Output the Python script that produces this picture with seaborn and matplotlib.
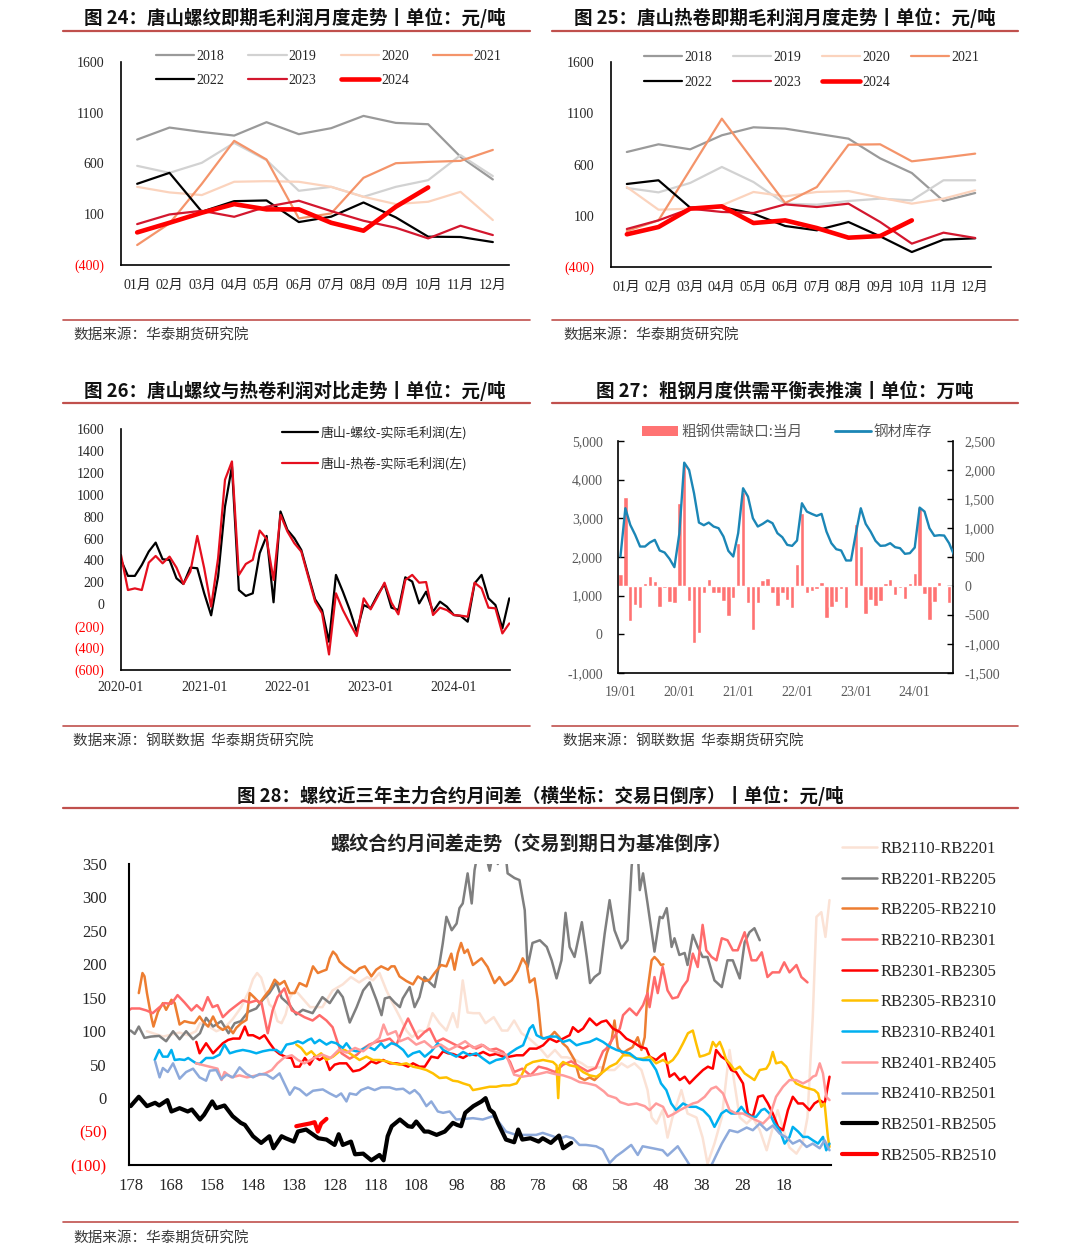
import numpy as np
import matplotlib
matplotlib.use("Agg")
import matplotlib.pyplot as plt
import seaborn as sns
from matplotlib.lines import Line2D
from matplotlib.patches import Patch

sns.set_theme(style="white")
plt.rcParams['font.family'] = ['Noto Sans CJK SC', 'DejaVu Sans']
plt.rcParams['axes.unicode_minus'] = False
SERIF = ['Liberation Serif', 'Noto Sans CJK SC']
CJK = ['Noto Sans CJK SC', 'DejaVu Sans']

# ---------------- data: panel 24 (rebar) ----------------
months = ["01月", "02月", "03月", "04月", "05月", "06月", "07月", "08月", "09月", "10月", "11月", "12月"]
year_labels = ["2018", "2019", "2020", "2021", "2022", "2023", "2024"]
rebar_2018 = [836, 954, 911, 875, 1007, 889, 948, 1069, 1000, 987, 666, 443]
rebar_2019 = [577, 508, 607, 803, 633, 331, 370, 272, 370, 436, 682, 476]
rebar_2020 = [370, 315, 289, 420, 426, 420, 370, 272, 200, 223, 321, 43]
rebar_2021 = [-203, 10, 400, 823, 639, 59, 108, 459, 603, 616, 626, 734]
rebar_2022 = [400, 508, 125, 229, 236, 23, 76, 216, 69, -121, -124, -174]
rebar_2023 = [3, 98, 134, 75, 174, 233, 131, 36, -33, -138, -13, -105]
rebar_2024 = [-79, 16, 115, 200, 148, 148, 16, -62, 174, 364]

# ---------------- data: panel 25 (hot coil) ----------------
hrc_2018 = [722, 797, 748, 885, 963, 950, 901, 852, 660, 517, 244, 322]
hrc_2019 = [371, 328, 420, 576, 429, 218, 208, 244, 267, 250, 446, 446]
hrc_2020 = [380, 159, 169, 202, 332, 289, 332, 341, 276, 218, 267, 348]
hrc_2021 = [-49, 55, 550, 1047, 634, 224, 380, 793, 797, 631, 667, 706]
hrc_2022 = [410, 446, 179, 185, 120, 0, -42, 39, -101, -254, -133, -120]
hrc_2023 = [-29, 55, 169, 137, 127, 211, 185, 218, 39, -172, -65, -117]
hrc_2024 = [-81, -10, 169, 192, 29, 55, -20, -114, -98, 55]

# ---------------- data: panel 26 (monthly 2020-01 .. 2024-09) ----------------
p26_year_labels = ["2020-01", "2021-01", "2022-01", "2023-01", "2024-01"]
ts_rebar_profit = [405, 259, 259, 359, 481, 563, 411, 405, 237, 185,
                   335, 329, 100, -101, 252, 893, 1259, 130, 76, 100,
                   466, 624, 18, 847, 679, 603, 496, 268, 45, -53,
                   -342, 268, 115, -53, -251, -7, -37, 85, 185, -31,
                   -53, 246, 207, 8, 115, -68, 24, -22, -98, -107,
                   -159, 191, 268, 54, -7, -220, 54]
ts_hrc_profit = [450, 130, 145, 130, 380, 441, 374, 435, 335, 185,
                 298, 624, 329, -22, 420, 1137, 1304, 268, 368, 405,
                 673, 597, 222, 816, 664, 557, 481, 252, 24, -83,
                 -458, 100, -53, -175, -290, 54, -46, 70, 197, 15,
                 -92, 222, 268, 197, 203, -98, -31, -53, -98, -104,
                 -113, 197, 145, -31, -37, -266, -175]

# ---------------- data: panel 27 (monthly 2019-01 .. 2024-09) ----------------
p27_year_labels = ["19/01", "20/01", "21/01", "22/01", "23/01", "24/01"]
supply_gap = [200, 1527, -603, -333, -373, 57, 178, 80, -356, -40,
              -270, -287, 1435, 2112, -252, -987, -804, -115, 120, -126,
              -126, -252, -516, -200, 735, 1624, -298, -757, -287, 103,
              132, -126, -344, -126, -241, -373, 373, 1251, -126, -80,
              -57, 75, -557, -356, -270, -52, -373, 17, 1067, 694,
              -488, -241, -344, -252, 46, 115, -155, -40, -224, 46,
              230, 1354, -138, -585, -270, 75, 0, -287, -430]
steel_inventory = [2013, 3261, 2831, 2573, 2271, 2271, 2375, 2443, 2168, 2116,
                   1953, 1737, 2600, 4440, 4250, 3649, 2891, 2822, 2891, 2788,
                   2745, 2530, 2159, 2013, 2616, 3778, 3562, 3003, 2788, 2857,
                   2943, 2874, 2616, 2512, 2314, 2288, 2426, 3390, 3175, 3115,
                   3063, 3115, 2659, 2357, 2202, 2168, 1910, 1910, 2616, 3261,
                   2857, 2659, 2418, 2288, 2297, 2357, 2254, 2228, 2082, 2099,
                   2245, 3278, 3175, 2745, 2547, 2564, 2555, 2357, 2056]

# ---------------- data: panel 28 (day-to-expiry, value) ----------------
rb2110_rb2201 = [(174,100),(172,96),(170,92),(168,95),(166,98),(164,94),(162,100),(161,112),(159,108),(157,100),(155,105),(153,118),(151,135),(149,160),(148,178),(147,187),(146,180),(145,160),(144,140),(143,135),(142,115),(141,112),(140,125),(139,150),(138,160),(137,157),(134,136),(131,136),(128.5,161),(126,170),(124,181),(122,173),(120,181),(118.6,176),(117,187),(115.3,161),(113.8,142),(112,121),(110.4,101),(109,91),(107.2,101),(105.5,99),(104,127),(102.3,112),(100.6,101),(99,127),(97.9,106),(96.6,176),(95.4,128),(94,127),(92.5,127),(91,112),(89,121),(87,101),(85.6,101),(84,116),(82.2,97),(80.7,91),(79,82),(77.3,72),(75.8,61),(74,72),(72.4,61),(71,61),(69,57),(67.4,52),(66,46),(64.3,46),(62.6,46),(61,42),(59.4,42),(57.7,52),(56.2,46),(54.5,52),(52.8,42),(51.3,12),(50.3,-29),(49.1,-38),(47.6,-18),(46.4,-59),(45.2,-29),(43,12),(41.5,-23),(39.3,-29),(37.8,-59),(36.6,-98),(34.9,-68),(33.1,-29),(31.2,72),(30,22),(28.7,-29),(27,-38),(25.5,-29),(23.8,-48),(22.1,-78),(20.6,-44),(19.4,-18),(18.2,-44),(16.5,-74),(14.8,-83),(13.3,-68),(12.1,-29),(10.8,121),(9.9,271),(8.7,278),(7.7,241),(6.7,296)]
rb2201_rb2205 = [(178,101),(177,96),(176,107),(174.6,90),(173,92),(171,93),(169.3,85),(167.6,100),(166,88),(164.4,100),(162.7,88),(161,97),(159.5,120),(157.8,107),(155.8,115),(154,97),(152.5,112),(151,115),(149.2,129),(147.2,134),(145.6,147),(144,157),(142.3,173),(141,150),(139,139),(137.4,125),(135.8,132),(133.4,127),(131,151),(129.2,142),(127.2,161),(126,151),(124.3,113),(122.6,136),(121,161),(119.4,173),(117.7,146),(116.5,124),(115.7,149),(114.5,151),(113.3,143),(112,136),(111.3,149),(109.6,166),(108.4,136),(107.2,151),(106,181),(104.7,173),(103.5,166),(102.3,201),(101.5,231),(100.6,271),(99.3,251),(98.1,261),(97.4,284),(96.6,291),(95.4,336),(94.4,291),(93.7,341),(92.5,380),(91,365),(90,340),(89,372),(88,350),(87,380),(86,360),(85.6,336),(83.9,329),(82.7,326),(81.4,281),(80.7,196),(79.5,232),(77.7,236),(76,226),(74.8,206),(73.6,179),(72.4,206),(71.4,277),(70.4,226),(69.2,211),(67.4,263),(66.2,211),(65.4,172),(64.3,181),(63,187),(61.8,246),(60.6,296),(59.4,251),(57.7,224),(56.2,236),(55.2,346),(54.5,390),(53.8,380),(53.2,311),(52.4,336),(51.3,291),(49.6,219),(48.3,271),(47.6,269),(46.6,284),(45.4,226),(44.7,239),(43.5,214),(42.2,217),(41.5,199),(40.2,244),(39,226),(37.8,211),(36.6,211),(34.9,176),(33.1,166),(31.7,206),(30.4,206),(28.7,179),(27.5,233),(26.3,248),(25.1,254),(23.8,236)]
rb2205_rb2210 = [(176,157),(175.1,187),(174.6,182),(174,157),(172.9,120),(172.4,107),(171.3,129),(170.1,142),(169.3,132),(168,147),(167.2,142),(166,110),(164.8,115),(163.5,113),(162.3,112),(161.1,122),(160.3,115),(159,107),(157.8,122),(156.6,107),(155.4,102),(154.1,107),(152.9,97),(152.1,105),(150.9,112),(149.6,117),(148.8,157),(147.6,150),(146.4,142),(145.2,152),(143.9,162),(142.7,177),(141.5,170),(140.3,175),(139,157),(137.8,157),(136.6,172),(134.9,167),(133.3,197),(132.1,187),(130.9,190),(130,192),(129.2,209),(128.4,219),(127.6,214),(126.8,204),(125.5,197),(124.3,192),(123.1,187),(121.9,194),(120.6,197),(119,182),(117.8,192),(116.6,197),(114.9,192),(114.1,197),(113.3,197),(112.1,182),(110.4,175),(108.8,170),(107.6,182),(105.9,175),(104.7,177),(103.5,187),(101.9,199),(100.6,197),(99.4,216),(98.6,192),(97.8,217),(97,232),(96.2,217),(95.4,222),(94.1,199),(92,209),(90.5,196),(88.8,172),(87.6,181),(86.3,169),(84.6,176),(83.1,191),(81.9,209),(80.9,199),(80.2,173),(79,179),(78.2,146),(77.3,91),(76.6,89),(75.3,91),(74.1,99),(72.9,91),(72.1,82),(71,76),(69.2,57),(68,31),(66.7,27),(65.5,31),(64.3,27),(62.6,37),(61.3,67),(60.1,87),(59.4,116),(58.6,76),(57.4,67),(56.2,72),(55,76),(53.7,91),(52.8,72),(52,91),(51.3,161),(50.3,206),(49.6,211),(48.8,206),(48,199),(47.4,200)]
rb2210_rb2301 = [(179.5,127),(177.8,134),(175.8,134),(174.1,131),(172.6,127),(170.9,136),(169.7,142),(168,141),(166.5,154),(164.8,143),(163.1,131),(161.8,139),(160.4,131),(159.1,151),(157.9,136),(156.7,139),(155.4,121),(153.7,131),(152,139),(150.5,146),(148.8,143),(147.1,146),(145.9,142),(144.4,97),(143.2,131),(142,151),(140.3,164),(138.5,131),(137.1,127),(135.4,121),(133.4,116),(131.7,124),(130,116),(128.5,106),(127.2,82),(126.3,67),(124.3,59),(122.5,65),(121,74),(119.5,80),(117.8,84),(116,86),(114.5,89),(112.9,79),(111.2,104),(110,119),(108.8,104),(107.6,89),(105.9,99),(104.7,104),(103.1,84),(101.4,89),(99.8,84),(98.2,79),(96.5,74),(94.9,79),(93.3,74),(91.6,79),(90,72),(88.4,74),(86.7,69),(85,54),(84,39),(82,44),(80,34),(78,47),(76,44),(74,39),(72,50),(70,55),(68,47),(66,40),(64,45),(62.2,70),(61.4,74),(59.8,89),(58.1,104),(57.3,124),(55.7,134),(54,124),(52.4,139),(51.3,157),(50.8,136),(49.6,181),(48.8,157),(47.6,196),(46.4,161),(45.2,149),(43.9,151),(42.7,166),(41.5,176),(40.2,216),(39,196),(37.8,259),(36.9,221),(35.6,211),(34.4,206),(33.1,239),(31.7,236),(30.4,221),(29.2,221),(27.5,248),(25.8,206),(24.6,206),(23.3,218),(21.9,181),(20.7,188),(19,188),(17.8,203),(16.5,188),(14.8,199),(13.6,181),(12.1,173)]
rb2301_rb2305 = [(161.9,84),(161.1,67),(159.5,82),(157.8,67),(156.2,77),(155.4,82),(154.1,87),(152.9,89),(151.3,89),(150,107),(149.2,94),(148,94),(146.4,89),(145.2,94),(143.9,82),(142.7,72),(141.5,66),(139.8,61),(138.6,60),(137.8,47),(136.6,47),(135.3,60),(134.1,50),(132.9,62),(131.7,57),(130.4,62),(129.2,42),(128,50),(126.8,52),(125.1,52),(123.5,40),(121.9,42),(120.6,47),(119,55),(117.8,52),(116.1,57),(114.5,52),(112.9,52),(111.2,50),(110,47),(108.8,52),(107.2,47),(105.9,47),(104.3,62),(102.7,60),(101.4,70),(100.2,67),(99,66),(96.5,60),(94.9,66),(93.3,64),(91.6,69),(90,64),(88.4,66),(86.7,62),(85.1,62),(83.4,64),(81.8,64),(80.2,74),(78.5,74),(76.9,79),(75.3,89),(73.6,84),(72,89),(70.4,94),(69.6,106),(68.3,99),(67.1,104),(65.5,119),(63.8,109),(62.6,114),(61.4,116),(59.8,104),(58.1,99),(56.5,89),(54.9,84),(53.2,77),(51.6,74),(50.8,62),(49.2,57),(47.9,64),(47.1,67),(45.9,32),(44.7,37),(43.4,27),(42.2,32),(41,22),(39.4,32),(37.7,42),(36.5,47),(35.3,44),(34.5,72),(33.2,62),(32,57),(30.8,42),(29.6,39),(27.9,22),(26.7,-23),(25.5,-28),(24.2,2),(23,4),(21.8,-8),(20.6,-23),(19.3,-43),(18.1,-48),(16.9,-18),(15.7,2),(14.4,-8),(13.2,-8),(11.6,-18),(10.4,-8),(9.1,-3),(7.9,-8),(6.7,32)]
rb2305_rb2310 = [(137.4,80),(136.2,75),(134.9,65),(133.7,70),(132.5,62),(131.3,67),(130,57),(128.4,62),(126.8,70),(125.5,72),(124.3,67),(123.1,62),(121.9,57),(120.2,62),(118.6,57),(117,57),(115.3,55),(113.7,52),(112.1,50),(110.4,52),(108.8,47),(107.2,45),(105.5,42),(103.9,37),(102.3,30),(100.6,31),(99,26),(97.8,25),(96.5,22),(94.9,19),(94.1,12),(92.4,14),(90,17),(88.4,17),(86.7,19),(85.1,19),(83.4,22),(82.2,34),(81,49),(79.4,54),(76.9,57),(74.5,54),(73.6,49),(73.2,0),(72.8,49),(72,54),(70.4,49),(68.7,47),(67.1,39),(65.5,34),(63.8,32),(62.2,39),(60.6,47),(58.9,52),(57.3,64),(55.7,64),(54,59),(52.4,59),(50.8,62),(49.2,52),(47.5,57),(46.3,52),(45.1,57),(43.9,67),(42.6,82),(41.4,97),(40.2,101),(39.4,82),(38.5,62),(37.3,64),(36.1,67),(35.3,84),(34.5,77),(33.6,84),(32.8,72),(32,57),(31.2,52),(30,42),(28.7,47),(27.5,37),(26.3,32),(25.1,27),(23.8,42),(22.2,44),(21.4,52),(20.6,69),(19.8,52),(18.5,54),(17.3,47),(16.1,32),(14.9,22),(13.2,17),(11.6,14),(10.4,12),(9.5,7),(8.7,-13),(7.9,-8),(7.1,-58),(6.7,-73)]
rb2310_rb2401 = [(172.1,57),(171,72),(170.1,62),(168.9,62),(168,72),(167.2,57),(166,58),(164.8,57),(163.9,60),(162.7,55),(161.9,52),(161.1,51),(159.5,60),(157.8,60),(156.2,65),(155,80),(153.7,67),(152.1,70),(150.5,72),(148.8,70),(147.2,67),(145.6,70),(143.9,72),(142.3,72),(141.1,67),(139.8,80),(138.2,82),(137,85),(135.8,82),(134.5,87),(133.7,89),(132.9,82),(131.7,87),(130,80),(128.8,84),(127.6,82),(126,75),(125.1,82),(123.9,72),(122.7,70),(121.5,72),(119.8,77),(118.2,72),(116.6,82),(115.7,75),(114.1,82),(112.9,80),(111.2,72),(110,62),(108.8,67),(107.2,70),(105.9,62),(104.3,70),(102.7,82),(101.4,72),(99.8,67),(98.2,62),(96.5,69),(94.9,64),(93.3,67),(91.6,59),(90,52),(88.4,57),(86.7,59),(85.1,67),(83.4,74),(81.8,79),(80.2,104),(79.4,109),(78.5,94),(76.9,89),(75.3,92),(73.6,92),(72,84),(70.4,87),(68.7,79),(67.1,82),(65.5,84),(63.8,89),(62.2,84),(60.6,77),(58.9,72),(57.3,69),(55.7,67),(54,59),(52.4,57),(50.8,57),(49.2,42),(48,22),(46.7,12),(45.5,-8),(44.3,-18),(42.6,-8),(41,-13),(39.4,-13),(37.7,-18),(36.1,-28),(34.9,-43),(33.2,-23),(32,-18),(30.8,-23),(29.6,-23),(28.3,-13),(27.1,-23),(25.9,-28),(24.7,-28),(23.4,-18),(22.6,-16),(21.4,-23),(20.2,-38),(18.9,-48),(17.7,-68),(16.5,-58),(15.7,-43),(14.4,-50),(13.2,-58),(12,-58),(10.8,-63),(9.5,-68),(8.3,-58),(7.5,-78),(6.7,-68)]
rb2401_rb2405 = [(162,52),(160,49),(158,46),(156.7,44),(155.7,27),(155,39),(153.3,31),(151.3,34),(149.5,31),(147,34),(145,37),(143.4,42),(142,52),(140.3,61),(138.5,64),(137,57),(135.4,52),(133,60),(131,65),(129,60),(127,72),(125,68),(123,75),(121,70),(119,80),(117,90),(116,110),(115,95),(113,100),(112,85),(110,90),(108,80),(106,85),(104,75),(102,80),(100,72),(98,78),(96,85),(94,75),(92,80),(90,72),(88,68),(86,65),(85,50),(84,35),(82,32),(80,34),(78,36),(76,39),(74,36),(72,34),(70,30),(68,24),(66,22),(64,19),(62,10),(61,4),(59,0),(58,-6),(56,-10),(54,-8),(52,-12),(50.8,-18),(49.2,-8),(47.5,-13),(46.3,-28),(44.7,-23),(43.4,-18),(41.8,-13),(40.2,-8),(39,-6),(37.3,2),(35.7,14),(34.5,17),(32.8,7),(31.2,-18),(29.6,-23),(27.9,-23),(26.3,-28),(24.7,-33),(23,-38),(21.4,-28),(19.8,2),(18.1,17),(16.5,27),(14.9,27),(13.2,22),(11.6,27),(10.8,32),(10,34),(9.1,52),(8.3,37),(7.5,2),(6.7,-3)]
rb2410_rb2501 = [(172,55),(170.9,31),(170.1,45),(168.9,39),(167.6,52),(166,29),(164.4,39),(162.7,44),(161.1,31),(159.5,26),(158.6,41),(157,42),(155.8,28),(154.5,35),(152.9,31),(151.3,46),(149.6,36),(148,31),(146.4,36),(144.7,35),(143.1,29),(141.5,37),(139,5),(137.8,16),(136.6,13),(134.9,4),(133.3,11),(130.9,13),(129.2,7),(127.6,2),(126.4,7),(125.1,-5),(124.3,7),(122.7,5),(121.5,12),(119.8,16),(118.2,12),(116.6,16),(114.5,16),(112.9,13),(111.2,14),(109.6,7),(108.4,12),(107.2,5),(105.5,-12),(104.3,-5),(102.7,-20),(101.4,-22),(99.8,-20),(98.2,-32),(94.1,-30),(91.7,-32),(89.2,-27),(87.6,-37),(86,-50),(83.5,-55),(81.1,-55),(78.6,-55),(77,-52),(74.5,-57),(72.9,-61),(71.3,-57),(69.6,-60),(68,-70),(66.4,-70),(63.9,-72),(62.3,-77),(60.6,-97),(59,-87),(57.4,-80),(55.3,-70),(53.7,-85),(52.5,-72),(50,-75),(47.6,-78),(46.4,-86),(43.9,-72),(41.7,-93),(40.2,-108),(38,-118),(36.5,-110),(35.3,-96),(33.1,-68),(31.2,-48),(29.2,-51),(27,-44),(25.5,-48),(23.8,-38),(22.1,-48),(20.6,-41),(18.9,-53),(17.2,-59),(15.7,-68),(14,-63),(12.3,-73),(10.8,-68),(9.1,-75),(7.9,-63),(6.7,-78)]
rb2501_rb2505 = [(178,-12),(176,2),(174,-12),(172,-7),(171,-11),(169,-3),(168,-20),(166,-15),(164,-20),(163,-17),(161,-32),(160,-25),(158,-5),(157,-15),(155,-11),(153,-27),(151,-37),(150,-40),(148,-57),(146,-67),(144,-57),(143,-75),(141,-57),(140,-60),(138,-65),(137,-50),(135,-47),(132,-60),(130,-62),(128,-70),(127,-54),(126,-70),(124,-65),(123,-84),(121,-83),(119,-93),(117,-85),(116,-93),(115,-57),(114,-42),(112,-32),(110,-42),(109,-43),(108,-35),(106,-50),(105,-50),(103,-55),(101,-50),(99,-37),(98,-40),(97,-42),(96,-22),(94,-12),(92,-5),(91,0),(90,-17),(89,-22),(88,-37),(86,-62),(84,-66),(83,-47),(82,-62),(80,-60),(78,-65),(77,-60),(75,-67),(73,-56),(72,-75),(70,-67)]
rb2505_rb2510 = [(137.4,-42),(135.8,-40),(134.1,-38),(132.9,-36),(132.1,-50),(131.3,-38),(130,-31)]

spread_names = ["RB2110-RB2201", "RB2201-RB2205", "RB2205-RB2210", "RB2210-RB2301", "RB2301-RB2305",
                "RB2305-RB2310", "RB2310-RB2401", "RB2401-RB2405", "RB2410-RB2501", "RB2501-RB2505", "RB2505-RB2510"]

# ---------------- styles ----------------
W, H = 1080, 1258
RULE = "#c0504d"
RED_TXT = "#ff0000"
year_colors = ["#9a9a9a", "#d2d2d2", "#fbd3bd", "#f4946a", "#000000", "#d3172e", "#ff0000"]
year_lw = [1.6, 1.6, 1.6, 1.6, 1.6, 1.6, 3.3]
spread_colors = ["#fbe2d5", "#7f7f7f", "#ed7d31", "#ff6b6b", "#ff0000", "#ffc000", "#00b0f0",
                 "#ff9b9b", "#8eaadb", "#000000", "#ff0000"]
spread_lw = [1.8, 1.8, 1.8, 1.8, 1.8, 1.8, 1.8, 1.8, 1.8, 3.0, 3.0]

fig = plt.figure(figsize=(W / 100, H / 100), dpi=100)
fig.patch.set_facecolor("white")


def fx(px):
    return px / W


def fy(py):
    return 1 - py / H


def axes_px(l, t, r, b):
    return fig.add_axes([l / W, 1 - b / H, (r - l) / W, (b - t) / H])


def hline(x0, x1, y, lw=1.6):
    fig.add_artist(Line2D([fx(x0), fx(x1)], [fy(y), fy(y)], color=RULE, lw=lw))


def title(x, y, s):
    fig.text(fx(x), fy(y), s, ha="center", va="center", fontsize=13.3, fontweight="bold",
             family=CJK, color="#111111")


def source(x, y, s):
    fig.text(fx(x), fy(y), s, ha="left", va="center", fontsize=10.5, family=CJK, color="#3a3a3a")


def style_spines(ax, sides=("left", "bottom"), lw=1.2):
    for k, sp in ax.spines.items():
        if k in sides:
            sp.set_visible(True)
            sp.set_color("black")
            sp.set_linewidth(lw)
        else:
            sp.set_visible(False)


def color_paren_labels(labels):
    for t in labels:
        if t.get_text().startswith("("):
            t.set_color(RED_TXT)


# ---------------- page decorations ----------------
title(295, 18, "图 24：唐山螺纹即期毛利润月度走势丨单位：元/吨")
title(785, 18, "图 25：唐山热卷即期毛利润月度走势丨单位：元/吨")
title(295, 391, "图 26：唐山螺纹与热卷利润对比走势丨单位：元/吨")
title(785, 391, "图 27：粗钢月度供需平衡表推演丨单位：万吨")
title(540, 796, "图 28：螺纹近三年主力合约月间差（横坐标：交易日倒序）丨单位：元/吨")
hline(63, 530, 31)
hline(552, 1018, 31)
hline(63, 530, 403)
hline(552, 1018, 403)
hline(63, 1018, 808)
hline(63, 530, 320, 1.2)
hline(552, 1018, 320, 1.2)
hline(63, 530, 726, 1.2)
hline(552, 1018, 726, 1.2)
hline(63, 1018, 1222, 1.2)
source(73, 335, "数据来源：华泰期货研究院")
source(563, 335, "数据来源：华泰期货研究院")
source(73, 741, "数据来源：钢联数据  华泰期货研究院")
source(563, 741, "数据来源：钢联数据  华泰期货研究院")
source(73, 1238, "数据来源：华泰期货研究院")


# ---------------- panels 24 / 25 ----------------
def month_panel(ax, series, legend_anchor, colspace, lspace):
    handles = []
    x = np.arange(12)
    for vals, c, lw, lab in zip(series, year_colors, year_lw, year_labels):
        sns.lineplot(x=x[:len(vals)], y=vals, ax=ax, color=c, linewidth=lw, label=lab, legend=False)
        handles.append(ax.lines[-1])
    ax.set_xlim(-0.5, 11.5)
    ax.set_ylim(-400, 1600)
    ax.set_yticks([1600, 1100, 600, 100, -400])
    ax.set_yticklabels(["1600", "1100", "600", "100", "(400)"], family=SERIF, fontsize=10)
    color_paren_labels(ax.get_yticklabels())
    ax.set_xticks(np.arange(-0.5, 12, 1))
    ax.set_xticklabels([])
    ax.set_xticks(np.arange(12), minor=True)
    ax.set_xticklabels(months, minor=True, family=SERIF, fontsize=10)
    ax.tick_params(axis="x", which="major", direction="in", length=4, width=1, color="black")
    ax.tick_params(axis="x", which="minor", length=0, pad=10)
    ax.tick_params(axis="y", direction="in", length=4, width=1, color="black", pad=12)
    ax.set_xlabel("")
    ax.set_ylabel("")
    style_spines(ax)
    order = [0, 4, 1, 5, 2, 6, 3]
    ax.legend([handles[i] for i in order], [year_labels[i] for i in order], ncol=4,
              loc="upper left", bbox_to_anchor=legend_anchor, bbox_transform=fig.transFigure,
              frameon=False, prop={"family": SERIF, "size": 10}, handlelength=2.75,
              handletextpad=0.15, columnspacing=colspace, labelspacing=lspace,
              borderpad=0, borderaxespad=0)


ax24 = axes_px(121, 62, 509, 265)
month_panel(ax24, [rebar_2018, rebar_2019, rebar_2020, rebar_2021, rebar_2022, rebar_2023, rebar_2024],
            (fx(156), fy(50)), 1.75, 0.8)
ax25 = axes_px(611, 62, 991, 267)
month_panel(ax25, [hrc_2018, hrc_2019, hrc_2020, hrc_2021, hrc_2022, hrc_2023, hrc_2024],
            (fx(644), fy(51)), 1.5, 0.88)

# ---------------- panel 26 ----------------
ax26 = axes_px(121, 429, 510, 670)
t26 = np.arange(len(ts_rebar_profit))
sns.lineplot(x=t26, y=ts_rebar_profit, ax=ax26, color="#000000", linewidth=1.6, label="唐山-螺纹-实际毛利润(左)", legend=False)
h1 = ax26.lines[-1]
sns.lineplot(x=t26, y=ts_hrc_profit, ax=ax26, color="#e50f1e", linewidth=1.6, label="唐山-热卷-实际毛利润(左)", legend=False)
h2 = ax26.lines[-1]
ax26.set_xlim(0, 56.1)
ax26.set_ylim(-600, 1600)
yt = list(range(1600, -601, -200))
ax26.set_yticks(yt)
ax26.set_yticklabels([str(v) if v >= 0 else "(%d)" % (-v) for v in yt], family=SERIF, fontsize=10)
color_paren_labels(ax26.get_yticklabels())
ax26.set_xticks(np.arange(0, 57, 1), minor=True)
ax26.set_xticks(np.arange(0, 57, 12))
ax26.set_xticklabels(p26_year_labels, family=SERIF, fontsize=10)
ax26.tick_params(axis="x", which="both", direction="in", length=4, width=1, color="black", pad=8)
ax26.tick_params(axis="y", direction="in", length=4, width=1, color="black", pad=12)
ax26.set_xlabel("")
ax26.set_ylabel("")
style_spines(ax26)
ax26.legend([h1, h2], ["唐山-螺纹-实际毛利润(左)", "唐山-热卷-实际毛利润(左)"], loc="upper left",
            bbox_to_anchor=(fx(282), fy(426)), bbox_transform=fig.transFigure, frameon=False,
            prop={"family": CJK, "size": 9.3}, handlelength=2.75, handletextpad=0.2,
            labelspacing=1.3, borderpad=0, borderaxespad=0)

# ---------------- panel 27 ----------------
BAR_C = "#ff7373"
LINE_C = "#1b86b6"
GRAY = "#595959"
ax27 = axes_px(618, 441, 953, 673)
t27 = np.arange(len(supply_gap))
sns.barplot(x=t27, y=supply_gap, ax=ax27, color=BAR_C, saturation=1, width=0.9, errorbar=None, zorder=2)
ax27l = ax27.twinx()
sns.lineplot(x=t27, y=steel_inventory, ax=ax27l, color=LINE_C, linewidth=1.7, legend=False)

# right axis (bars)
ax27.yaxis.tick_right()
ax27.yaxis.set_label_position("right")
ax27.set_ylim(-1500, 2500)
ax27.set_xlim(-0.5, 67.8)
ax27.set_yticks([2500, 2000, 1500, 1000, 500, 0, -500, -1000, -1500])
ax27.set_yticklabels(["2,500", "2,000", "1,500", "1,000", "500", "0", "-500", "-1,000", "-1,500"],
                     family=SERIF, fontsize=10, color=GRAY)
ax27.set_xticks(np.arange(-0.5, 68, 4))
ax27.set_xticklabels([])
ax27.set_xticks(np.arange(0, 61, 12), minor=True)
ax27.set_xticklabels(p27_year_labels, minor=True, family=SERIF, fontsize=10, color=GRAY)
ax27.tick_params(axis="x", which="major", direction="in", length=4, width=1, color="black")
ax27.tick_params(axis="x", which="minor", length=0, pad=9)
ax27.tick_params(axis="y", which="both", left=False, right=True, labelleft=False, labelright=True,
                 direction="in", length=4, width=1, color="black", pad=8)
ax27.set_xlabel("")
ax27.set_ylabel("")
style_spines(ax27, sides=("left", "right", "bottom"))

# left axis (inventory line)
ax27l.yaxis.tick_left()
ax27l.yaxis.set_label_position("left")
ax27l.set_ylim(-1000, 5000)
ax27l.set_yticks(list(range(5000, -1001, -1000)))
ax27l.set_yticklabels(["5,000", "4,000", "3,000", "2,000", "1,000", "0", "-1,000"],
                      family=SERIF, fontsize=10, color=GRAY)
ax27l.tick_params(axis="y", which="both", left=True, right=False, labelleft=True, labelright=False,
                  direction="in", length=4, width=1, color="black", pad=11)
ax27l.set_ylabel("")
for sp in ax27l.spines.values():
    sp.set_visible(False)
ax27l.legend([Patch(facecolor=BAR_C, edgecolor="none"), Line2D([0], [0], color=LINE_C, lw=2)],
             ["粗钢供需缺口:当月", "钢材库存"], ncol=2, loc="upper left",
             bbox_to_anchor=(fx(642), fy(425)), bbox_transform=fig.transFigure, frameon=False,
             prop={"family": CJK, "size": 10.5}, labelcolor=GRAY, handlelength=2.5, handleheight=0.7,
             handletextpad=0.2, columnspacing=2.2, borderpad=0, borderaxespad=0)

# ---------------- panel 28 ----------------
ax28 = axes_px(129, 864, 831, 1165)
spread_series = [rb2110_rb2201, rb2201_rb2205, rb2205_rb2210, rb2210_rb2301, rb2301_rb2305, rb2305_rb2310,
                 rb2310_rb2401, rb2401_rb2405, rb2410_rb2501, rb2501_rb2505, rb2505_rb2510]
h28 = []
for pts, c, lw, name in zip(spread_series, spread_colors, spread_lw, spread_names):
    d = [p[0] for p in pts]
    v = [p[1] for p in pts]
    sns.lineplot(x=d, y=v, ax=ax28, color=c, linewidth=lw, sort=False, label=name, legend=False)
    h28.append(ax28.lines[-1])
ax28.set_xlim(178.4, 6.4)
ax28.set_ylim(-100, 350)
yt28 = list(range(350, -101, -50))
ax28.set_yticks(yt28)
ax28.set_yticklabels([str(v) if v >= 0 else "(%d)" % (-v) for v in yt28], family=SERIF, fontsize=12)
color_paren_labels(ax28.get_yticklabels())
ax28.set_xticks(np.arange(178, 17, -10))
ax28.set_xticklabels([str(v) for v in range(178, 17, -10)], family=SERIF, fontsize=12)
ax28.set_xticks(np.arange(178, 6, -5 / 3), minor=True)
ax28.tick_params(axis="x", which="both", direction="in", length=4, width=1, color="black", pad=9)
ax28.tick_params(axis="y", direction="in", length=4, width=1, color="black", pad=16)
ax28.set_xlabel("")
ax28.set_ylabel("")
style_spines(ax28, lw=1.5)
fig.text(fx(531), fy(845), "螺纹合约月间差走势（交易到期日为基准倒序）", ha="center", va="center",
         fontsize=13.8, fontweight="bold", family=CJK, color="#222222")
ax28.legend(h28, spread_names, loc="upper left", bbox_to_anchor=(fx(842), fy(841)),
            bbox_transform=fig.transFigure, frameon=False, prop={"family": SERIF, "size": 12},
            handlelength=2.1, handletextpad=0.24, labelspacing=0.88, borderpad=0, borderaxespad=0)

fig.savefig("out.png", dpi=100, facecolor="white")
